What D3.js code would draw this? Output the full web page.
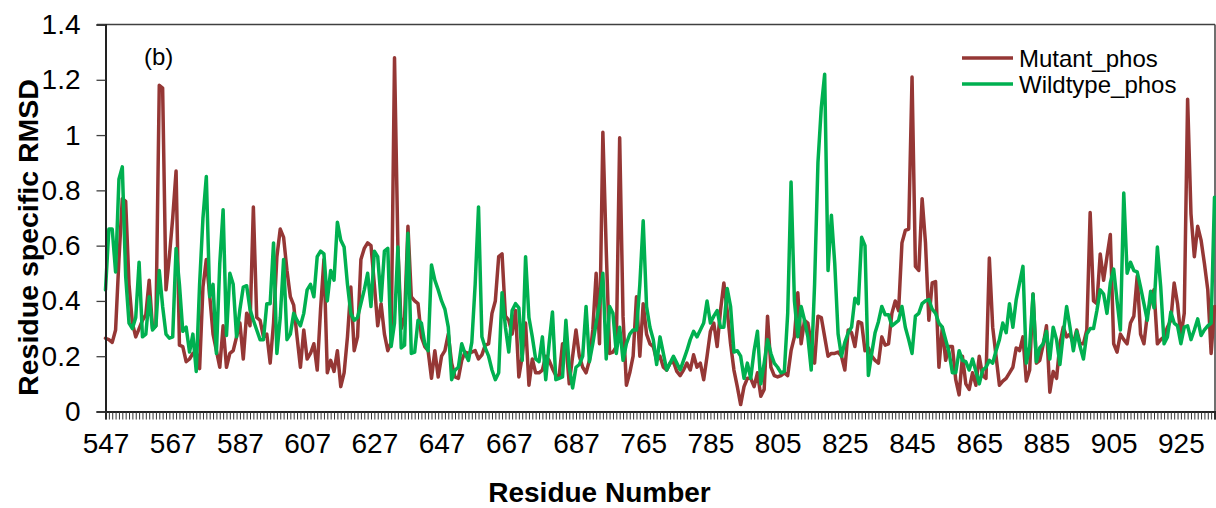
<!DOCTYPE html>
<html>
<head>
<meta charset="utf-8">
<script src="https://cdn.jsdelivr.net/npm/d3@7/dist/d3.min.js"></script>
<style>
  html, body { margin: 0; padding: 0; background: #fff; }
  svg { display: block; font-family: Arial, "Liberation Sans", sans-serif; }
</style>
</head>
<body>
<svg id="chart" width="1216" height="508"></svg>
<script>
// Residue numbers (two contiguous segments, gap between them)
const segment1 = d3.range(547, 700);   // 547 .. 699
const segment2 = d3.range(758, 936);   // 758 .. 935
const categories = segment1.concat(segment2).map(String);

const tickLabels = ["547","567","587","607","627","647","667","687","765","785","805","825","845","865","885","905","925"];
const yTicks = [0, 0.2, 0.4, 0.6, 0.8, 1.0, 1.2, 1.4];
const seriesNames = ["Mutant_phos", "Wildtype_phos"];

const mutant = [
0.265,0.26,0.25,0.295,0.55,0.77,0.76,0.46,0.32,0.27,
0.30,0.33,0.35,0.475,0.30,0.31,1.18,1.17,0.44,0.56,
0.70,0.87,0.24,0.235,0.18,0.19,0.21,0.215,0.155,0.45,
0.55,0.42,0.28,0.22,0.16,0.31,0.16,0.21,0.22,0.27,
0.32,0.19,0.355,0.31,0.74,0.34,0.33,0.27,0.28,0.175,
0.32,0.56,0.66,0.63,0.51,0.415,0.385,0.27,0.16,0.295,
0.19,0.21,0.245,0.15,0.37,0.55,0.14,0.185,0.145,0.22,
0.09,0.14,0.27,0.45,0.22,0.27,0.55,0.59,0.61,0.60,
0.46,0.31,0.39,0.28,0.22,0.25,1.28,0.60,0.30,0.34,
0.67,0.415,0.40,0.39,0.27,0.235,0.22,0.12,0.22,0.125,
0.20,0.22,0.28,0.175,0.125,0.12,0.185,0.215,0.21,0.215,
0.22,0.19,0.205,0.24,0.245,0.355,0.40,0.56,0.57,0.345,
0.33,0.28,0.365,0.125,0.20,0.32,0.095,0.19,0.14,0.14,
0.15,0.20,0.185,0.155,0.13,0.13,0.245,0.245,0.10,0.20,
0.295,0.20,0.16,0.14,0.185,0.295,0.50,0.245,1.01,0.585,
0.21,0.215,0.235,0.99,0.345,0.095,0.14,0.20,0.415,0.20,
0.39,0.28,0.245,0.235,0.185,0.20,0.16,0.15,0.175,0.18,
0.145,0.13,0.15,0.175,0.15,0.205,0.16,0.175,0.115,0.20,
0.29,0.32,0.235,0.365,0.465,0.365,0.245,0.15,0.09,0.025,
0.09,0.12,0.12,0.09,0.14,0.055,0.08,0.345,0.16,0.13,
0.125,0.13,0.14,0.13,0.22,0.27,0.43,0.245,0.33,0.32,
0.245,0.175,0.345,0.34,0.27,0.20,0.21,0.21,0.215,0.20,
0.15,0.295,0.285,0.235,0.325,0.32,0.22,0.23,0.20,0.185,
0.175,0.27,0.24,0.245,0.355,0.40,0.365,0.61,0.655,0.66,
1.21,0.525,0.51,0.77,0.61,0.33,0.465,0.47,0.16,0.305,
0.185,0.235,0.235,0.115,0.06,0.20,0.10,0.08,0.14,0.095,
0.20,0.13,0.12,0.555,0.305,0.20,0.095,0.11,0.12,0.14,
0.16,0.23,0.22,0.27,0.11,0.15,0.425,0.175,0.185,0.24,
0.31,0.07,0.145,0.12,0.245,0.305,0.27,0.28,0.245,0.295,
0.245,0.245,0.295,0.72,0.40,0.39,0.57,0.475,0.56,0.64,
0.245,0.215,0.28,0.26,0.245,0.32,0.345,0.49,0.28,0.245,
0.35,0.40,0.44,0.245,0.26,0.27,0.305,0.33,0.465,0.39,
0.27,0.355,1.13,0.715,0.56,0.67,0.62,0.535,0.44,0.21,
0.38
];

const wildtype = [
0.44,0.66,0.66,0.505,0.84,0.885,0.49,0.32,0.30,0.34,
0.54,0.27,0.28,0.415,0.295,0.31,0.51,0.38,0.28,0.265,
0.27,0.59,0.46,0.29,0.305,0.215,0.28,0.145,0.46,0.70,
0.85,0.415,0.46,0.21,0.535,0.73,0.275,0.50,0.46,0.27,
0.37,0.45,0.455,0.37,0.33,0.295,0.26,0.26,0.39,0.39,
0.61,0.21,0.34,0.55,0.26,0.28,0.355,0.33,0.31,0.355,
0.44,0.46,0.415,0.56,0.58,0.57,0.40,0.51,0.475,0.685,
0.62,0.595,0.46,0.355,0.33,0.34,0.39,0.44,0.50,0.38,
0.58,0.56,0.40,0.58,0.59,0.235,0.32,0.595,0.23,0.24,
0.645,0.21,0.215,0.33,0.32,0.245,0.22,0.53,0.475,0.44,
0.40,0.37,0.305,0.115,0.15,0.16,0.245,0.21,0.185,0.25,
0.46,0.74,0.27,0.23,0.20,0.15,0.115,0.14,0.43,0.305,
0.215,0.365,0.39,0.375,0.185,0.56,0.34,0.27,0.19,0.18,
0.27,0.115,0.245,0.36,0.115,0.12,0.125,0.33,0.16,0.085,
0.16,0.17,0.20,0.38,0.18,0.245,0.32,0.39,0.50,0.19,
0.38,0.355,0.21,0.305,0.185,0.245,0.28,0.295,0.295,0.46,
0.69,0.38,0.305,0.26,0.17,0.27,0.21,0.15,0.175,0.20,
0.175,0.15,0.185,0.22,0.26,0.29,0.27,0.295,0.32,0.40,
0.32,0.345,0.365,0.305,0.305,0.445,0.38,0.215,0.22,0.20,
0.12,0.175,0.12,0.22,0.29,0.10,0.175,0.26,0.21,0.175,
0.16,0.14,0.145,0.355,0.83,0.40,0.27,0.38,0.33,0.27,
0.15,0.46,0.90,1.10,1.22,0.51,0.71,0.535,0.28,0.20,
0.25,0.285,0.305,0.41,0.39,0.63,0.60,0.13,0.21,0.285,
0.325,0.38,0.35,0.35,0.31,0.32,0.33,0.38,0.305,0.26,
0.21,0.345,0.355,0.39,0.40,0.405,0.37,0.355,0.32,0.305,
0.26,0.215,0.14,0.14,0.22,0.185,0.18,0.15,0.19,0.145,
0.10,0.15,0.16,0.185,0.175,0.22,0.26,0.32,0.285,0.39,
0.305,0.405,0.465,0.525,0.175,0.235,0.425,0.18,0.23,0.245,
0.29,0.19,0.305,0.26,0.17,0.28,0.38,0.305,0.22,0.29,
0.235,0.19,0.28,0.30,0.30,0.365,0.44,0.425,0.355,0.465,
0.515,0.40,0.295,0.79,0.50,0.54,0.51,0.505,0.45,0.39,
0.33,0.435,0.375,0.595,0.45,0.245,0.27,0.36,0.32,0.31,
0.245,0.305,0.31,0.26,0.295,0.335,0.275,0.295,0.31,0.32,
0.775
];

const colors = ["#953735", "#00B050"];

const svg = d3.select("#chart");
const plotLeft = 105.5, plotRight = 1214.5, plotTop = 24.5, plotBottom = 411.5;

const x = d3.scalePoint().domain(categories).range([plotLeft, plotRight]).padding(0);
const y = d3.scaleLinear().domain([0, 1.4]).range([plotBottom, plotTop]);

const font = 'Arial, "Liberation Sans", sans-serif';

// plot frame (top & right)
svg.append("line").attr("x1", 97).attr("x2", plotRight + 0.5).attr("y1", plotTop).attr("y2", plotTop)
  .attr("stroke", "#404040").attr("stroke-width", 1.5);
svg.append("line").attr("x1", plotRight + 0.5).attr("x2", plotRight + 0.5).attr("y1", plotTop).attr("y2", plotBottom)
  .attr("stroke", "#404040").attr("stroke-width", 1.5);

// lines
const line = d3.line().x((d, i) => x(categories[i])).y(d => y(d)).curve(d3.curveLinear);
[mutant, wildtype].forEach((s, k) => {
  svg.append("path").datum(s)
    .attr("d", line)
    .attr("fill", "none")
    .attr("stroke", colors[k])
    .attr("stroke-width", 3.5)
    .attr("stroke-linejoin", "round")
    .attr("stroke-linecap", "round");
});

// y axis
const yAxis = svg.append("g").attr("transform", `translate(${plotLeft},0)`)
  .call(d3.axisLeft(y).tickValues(yTicks).tickSize(9).tickPadding(16)
    .tickFormat(d => String(+d.toFixed(1))));
yAxis.select(".domain").attr("stroke", "#222").attr("stroke-width", 2);
yAxis.selectAll(".tick line").attr("stroke", "#404040").attr("stroke-width", 1.3);
yAxis.selectAll(".tick text").attr("font-size", 28).attr("font-family", font).attr("fill", "#000");

// x axis minor ticks (every residue)
const xMinor = svg.append("g").attr("transform", `translate(0,${plotBottom})`)
  .call(d3.axisBottom(x).tickValues(categories).tickSize(8).tickFormat(""));
xMinor.select(".domain").attr("stroke", "#222").attr("stroke-width", 2);
xMinor.selectAll(".tick line").attr("stroke", "#333").attr("stroke-width", 1);

// x axis labels
const xLab = svg.append("g").attr("transform", `translate(0,${plotBottom})`)
  .call(d3.axisBottom(x).tickValues(tickLabels).tickSize(0).tickPadding(22));
xLab.select(".domain").remove();
xLab.selectAll(".tick text").attr("font-size", 28).attr("font-family", font).attr("fill", "#000");

// axis titles
svg.append("text").attr("x", 599.5).attr("y", 502).attr("text-anchor", "middle")
  .attr("font-size", 28).attr("font-weight", "bold").attr("font-family", font)
  .text("Residue Number");
svg.append("text").attr("transform", "translate(38,237.5) rotate(-90)").attr("text-anchor", "middle")
  .attr("font-size", 28.5).attr("font-weight", "bold").attr("font-family", font)
  .text("Residue specific RMSD");

// panel label
svg.append("text").attr("x", 144).attr("y", 65).attr("font-size", 24).attr("font-family", font)
  .text("(b)");

// legend
seriesNames.forEach((name, k) => {
  const ly = 58 + k * 26;
  svg.append("line").attr("x1", 962).attr("x2", 1013).attr("y1", ly).attr("y2", ly)
    .attr("stroke", colors[k]).attr("stroke-width", 3.5);
  svg.append("text").attr("x", 1019).attr("y", ly + 8.5).attr("font-size", 24)
    .attr("font-family", font).text(name);
});
</script>
</body>
</html>
